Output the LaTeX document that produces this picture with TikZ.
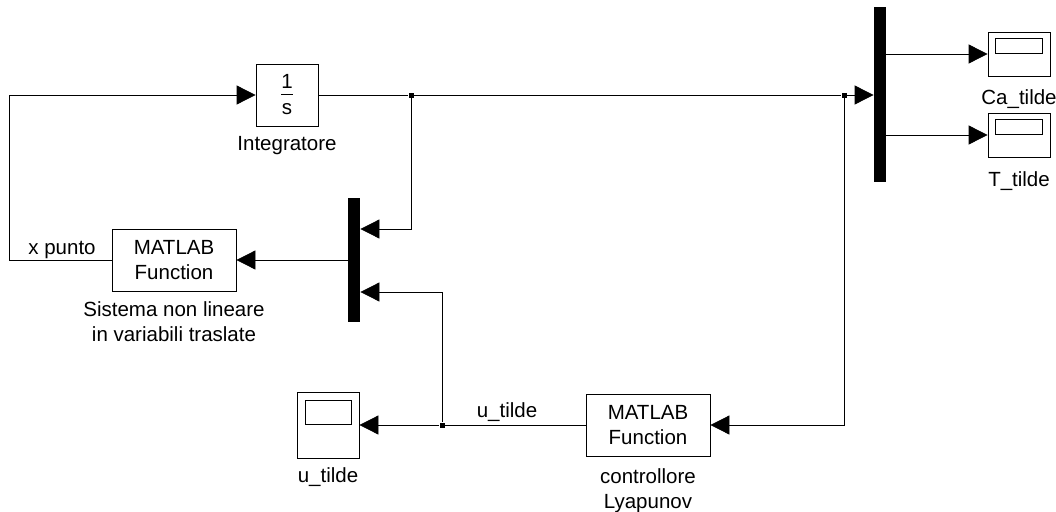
\documentclass[tikz,border=0pt]{standalone}
\usepackage{fontspec}
\setmainfont{Liberation Sans}
\usetikzlibrary{arrows.meta, positioning}

\begin{document}
\begin{tikzpicture}[x=1pt, y=-1pt, line width=0.8pt,
    >={Triangle[length=19pt, width=19pt]},
    every node/.style={font=\fontsize{20.5}{25}\selectfont},
    blk/.style={draw, minimum width=124pt, minimum height=62pt, align=center, inner sep=0pt},
    mux/.style={fill=black, minimum width=12pt, inner sep=0pt},
    scope/.style={draw, minimum width=62pt, inner sep=0pt},
    jdot/.style={fill=black, minimum size=5pt, inner sep=0pt},
    lbl/.style={align=center, inner sep=0pt}]
    \useasboundingbox (0,0) rectangle (1056,511);
    % blocks
    \node[blk, minimum width=62pt] (integ) at (287,95) {1\\[-19pt]\rule{12pt}{0.7pt}\\[-5pt]s};
    \node[lbl, below=10pt of integ] (integlbl) {Integratore};
    \node[blk] (sys) at (174,260) {MATLAB\\Function};
    \node[lbl, below=10pt of sys] (syslbl) {Sistema non lineare\\in variabili traslate};
    \node[mux, minimum height=124pt] (mux1) at (354,260) {};
    \node[mux, minimum height=175pt] (mux2) at (880,94.5) {};
    \node[blk] (ctrl) at (648,425) {MATLAB\\Function};
    \node[lbl, below=12pt of ctrl] (ctrllbl) {controllore\\Lyapunov};
    % scopes
    \node[scope, minimum height=44pt] (ca) at (1019,54) {};
    \node[scope, minimum height=44pt] (tt) at (1019,135) {};
    \node[scope, minimum height=66pt] (us) at (328,425) {};
    \draw ([shift={(8,7)}]ca.north west) rectangle ++(47,15);
    \draw ([shift={(8,7)}]tt.north west) rectangle ++(47,15);
    \draw ([shift={(9,9)}]us.north west) rectangle ++(46,24);
    \node[lbl, below=13pt of ca] (calbl) {Ca\_tilde};
    \node[lbl, below=14pt of tt] (ttlbl) {T\_tilde};
    \node[lbl, below=9pt of us] (uslbl) {u\_tilde};
    % branch points
    \node[jdot] (j1) at (411,95) {};
    \node[jdot] (j2) at (844,95) {};
    \node[jdot] (j3) at (442,425) {};
    \coordinate (fb) at (9,260);
    % signals
    \draw[->] (integ) -- (j1) -- (j2) -- (j2 -| mux2.west);
    \draw[->] (j1) |- ([yshift=31pt]mux1.east);
    \draw[->] (mux1) -- (sys);
    \draw[->] (sys) -- (fb) |- (integ);
    \node[lbl, anchor=base] (xplbl) at (62,254) {x punto};
    \draw[->] (ca -| mux2.east) -- (ca);
    \draw[->] (tt -| mux2.east) -- (tt);
    \draw[->] (j2) |- (ctrl);
    \draw[->] (ctrl) -- (j3) -- (us);
    \node[lbl, anchor=base] (ulbl) at (507,417) {u\_tilde};
    \draw[->] (j3) |- ([yshift=-32pt]mux1.east);
\end{tikzpicture}
\end{document}
